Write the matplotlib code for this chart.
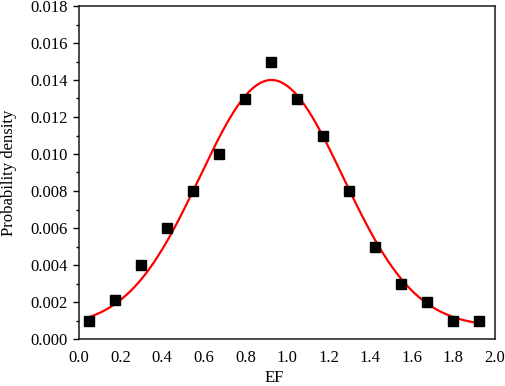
import numpy as np
import matplotlib
matplotlib.use("Agg")
import matplotlib.pyplot as plt
from matplotlib.ticker import MultipleLocator

# Data
ef = [0.05, 0.175, 0.3, 0.425, 0.55, 0.675, 0.8, 0.925, 1.05, 1.175,
      1.3, 1.425, 1.55, 1.675, 1.8, 1.925]
density = [0.0010, 0.0021, 0.0040, 0.0060, 0.0080, 0.0100, 0.0130, 0.0150,
           0.0130, 0.0110, 0.0080, 0.0050, 0.0030, 0.0020, 0.0010, 0.0010]

# Gaussian fit parameters (estimated from the red curve)
fit_y0 = 0.00065
fit_amp = 0.01335
fit_xc = 0.925
fit_sigma = 0.345

x_ticks = [0.0, 0.2, 0.4, 0.6, 0.8, 1.0, 1.2, 1.4, 1.6, 1.8, 2.0]
y_ticks = [0.000, 0.002, 0.004, 0.006, 0.008, 0.010, 0.012, 0.014, 0.016, 0.018]

plt.rcParams['font.family'] = 'Liberation Serif'
plt.rcParams['font.size'] = 12

fig = plt.figure(figsize=(5.05, 3.86), dpi=100)
ax = fig.add_axes([79/505, 1 - 339/386, (495 - 79)/505, (339 - 6)/386])

xf = np.linspace(ef[0], ef[-1], 400)
yf = fit_y0 + fit_amp * np.exp(-(xf - fit_xc) ** 2 / (2 * fit_sigma ** 2))
ax.plot(xf, yf, color='#ff0000', lw=1.6, zorder=2)
ax.plot(ef, density, ls='none', marker='s', ms=7.2, color='black', zorder=3)

ax.set_xlim(0, 2.0)
ax.set_ylim(0, 0.018)
ax.set_xticks(x_ticks)
ax.set_xticklabels([f"{v:.1f}" for v in x_ticks])
ax.set_yticks(y_ticks)
ax.set_yticklabels([f"{v:.3f}" for v in y_ticks])
ax.yaxis.set_minor_locator(MultipleLocator(0.001))

ax.tick_params(axis='x', which='both', length=0, labelsize=12, pad=8)
ax.tick_params(axis='y', which='major', direction='out', length=4, width=1, labelsize=12, pad=4)
ax.tick_params(axis='y', which='minor', direction='out', length=2.5, width=1)

for s in ax.spines.values():
    s.set_linewidth(1.1)
    s.set_color('#1a1a1a')

ax.set_xlabel('EF', fontsize=12)
ax.xaxis.set_label_coords((274 - 79) / (495 - 79), -(386 - 339) / (339 - 6))
ax.xaxis.label.set_va('bottom')
ax.set_ylabel('Probability density', fontsize=12)
ax.yaxis.set_label_coords(-(79 - 9) / (495 - 79), 0.5)
ax.yaxis.label.set_va('center')

fig.savefig('out.png', dpi=100)
